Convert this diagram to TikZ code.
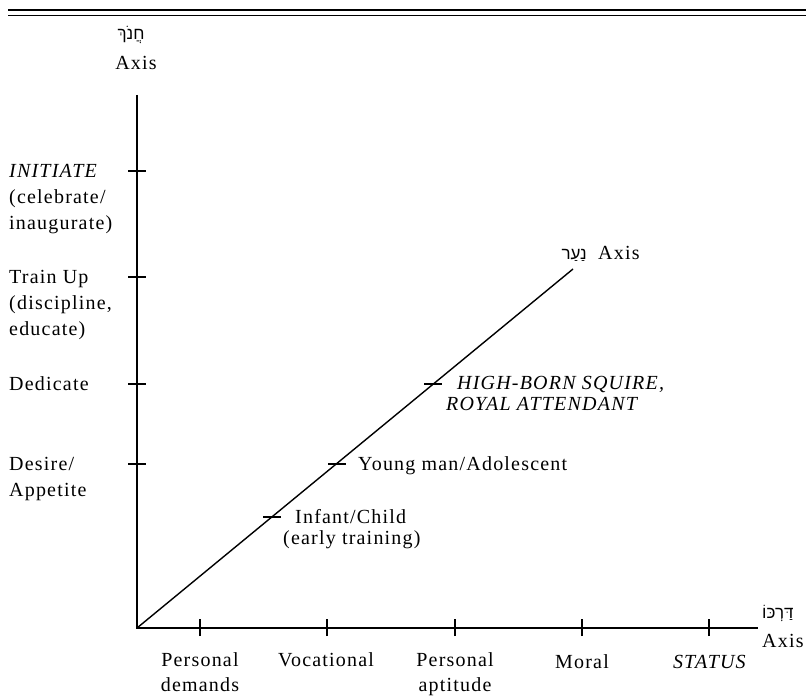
\documentclass[tikz,border=0pt]{standalone}
\usepackage{fontspec}
\setmainfont{Liberation Serif}[LetterSpace=6.0]
\newfontfamily\hebfont[Script=Hebrew]{Liberation Sans}
\TeXXeTstate=1
\begin{document}
\begin{tikzpicture}[x=1pt,y=-1pt,
  axisline/.style={line width=1.4pt},
  tickline/.style={line width=1.1pt},
  rule/.style={line width=1.8pt},
  lab/.style={font=\fontsize{20}{26}\selectfont, inner sep=0pt, anchor=base west, align=left},
  dlab/.style={font=\fontsize{20}{21}\selectfont, inner sep=0pt, anchor=base west, align=left},
  blab/.style={font=\fontsize{20}{25}\selectfont, inner sep=0pt, anchor=base, align=center},
  heb/.style={font=\fontsize{17}{18}\selectfont\hebfont, inner sep=0pt, anchor=base}]
\useasboundingbox (0,0) rectangle (806,698);
% top rules
\draw[rule] (8,10) -- (806,10);
\draw[line width=1.3pt] (8,15.5) -- (806,15.5);
% axes
\coordinate (O) at (137,628);
\coordinate (ytop) at (137,95);
\coordinate (xend) at (758,628);
\coordinate (dend) at (573,269);
\draw[axisline] (ytop) -- (O) -- (xend);
\draw[axisline] (O) -- (dend);
% y ticks
\foreach \y/\n in {171/ya,277/yb,384/yc,464/yd}{
  \coordinate (\n) at (137,\y);
  \draw[tickline] ([xshift=-9pt]\n) -- ([xshift=9pt]\n);
}
% x ticks
\foreach \x/\n in {200/xa,327/xb,455/xc,582/xd,709/xe}{
  \coordinate (\n) at (\x,628);
  \draw[tickline] ([yshift=-8pt]\n) -- ([yshift=9pt]\n);
}
% diagonal ticks
\foreach \x/\y/\n in {272/517/da,337/464/db,433/384/dc}{
  \coordinate (\n) at (\x,\y);
  \draw[tickline] ([xshift=-9pt]\n) -- ([xshift=9pt]\n);
}
% axis titles
\node[heb] (hanokh) at (131,40) {\beginR חֲנֹךְ\endR};
\node[blab] (hanokhax) at (136,70) {Axis};
\node[heb, anchor=base east] (naar) at (587,259) {\beginR נַעַר\endR};
\node[lab] (naarax) at (598,259) {Axis};
\node[heb, anchor=base west] (darko) at (762,618) {\beginR דַּרְכּוֹ\endR};
\node[lab] (darkoax) at (762,647) {Axis};
% left labels (base = last line)
\node[lab] (initiate) at (9,229) {\textit{INITIATE}\\(celebrate/\\inaugurate)};
\node[lab] (train) at (9,335) {Train Up\\(discipline,\\educate)};
\node[lab] (dedicate) at (9,390) {Dedicate};
\node[lab] (desire) at (9,496) {Desire/\\Appetite};
% diagonal labels
\node[dlab] (squire) at (446,410) {\hspace*{11pt}\textit{HIGH-BORN SQUIRE,}\\\textit{ROYAL ATTENDANT}};
\node[dlab] (young) at (358,470) {Young man/Adolescent};
\node[dlab] (infant) at (283,544) {\hspace*{12pt}Infant/Child\\(early training)};
% bottom labels
\node[blab] (pd) at (200,691) {Personal\\demands};
\node[blab] (voc) at (326,666) {Vocational};
\node[blab] (pa) at (455,691) {Personal\\aptitude};
\node[blab] (moral) at (582,668) {Moral};
\node[blab] (status) at (710,668) {\textit{STATUS}};
\end{tikzpicture}
\end{document}
